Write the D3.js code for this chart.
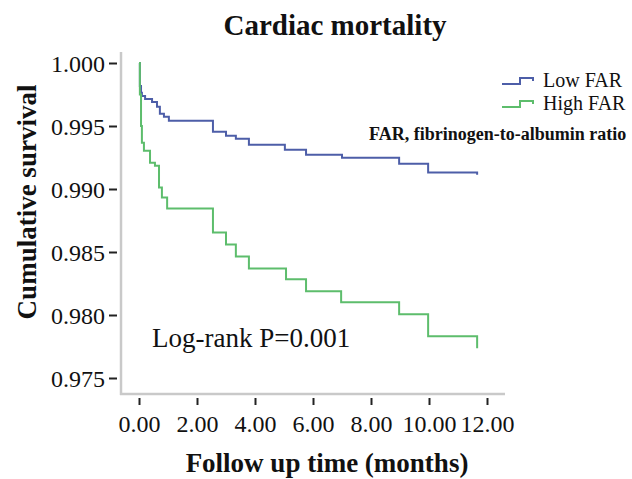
<!DOCTYPE html>
<html>
<head>
<meta charset="utf-8">
<script src="https://cdn.jsdelivr.net/npm/d3@7"></script>
<style>
  body { margin: 0; background: #fff; }
  svg text { font-family: "Liberation Serif", "Times New Roman", serif; fill: #111; }
</style>
</head>
<body>
<div id="chart"></div>
<script>
// Kaplan-Meier steps (time in months, cumulative survival)
const lowTime = [0, 0.03, 0.07, 0.10, 0.21, 0.45, 0.62, 0.72, 0.86, 1.03, 2.55, 3.00, 3.34, 3.79, 5.03, 5.76, 7.00, 8.97, 9.97, 11.66];
const lowSurv = [1.0, 0.99818, 0.99763, 0.99739, 0.99715, 0.99691, 0.99652, 0.99597, 0.99573, 0.99541, 0.99454, 0.99422, 0.99399, 0.99351, 0.99312, 0.99272, 0.99248, 0.99201, 0.99130, 0.99114];
const highTime = [0, 0.03, 0.07, 0.10, 0.17, 0.38, 0.55, 0.69, 0.79, 0.97, 2.55, 3.00, 3.34, 3.79, 5.07, 5.76, 6.97, 8.97, 9.97, 11.66];
const highSurv = [1.0, 0.9975, 0.9950, 0.99367, 0.99304, 0.99209, 0.99185, 0.99011, 0.98932, 0.98845, 0.98655, 0.98560, 0.98465, 0.98370, 0.98283, 0.98188, 0.98101, 0.98006, 0.97832, 0.97737];
const xTicks = [0, 2, 4, 6, 8, 10, 12];
const yTicks = [0.975, 0.980, 0.985, 0.990, 0.995, 1.000];
const groups = ['Low FAR', 'High FAR'];
const colors = ['#4d5ea8', '#5dbd6c'];

const width = 632, height = 479;

const svg = d3.select('#chart').append('svg')
    .attr('width', width)
    .attr('height', height);

const x = d3.scaleLinear().domain([0, 12]).range([139, 487]);
const y = d3.scaleLinear().domain([0.975, 1.0]).range([378, 63]);

// Frame lines (light gray, SPSS style)
svg.append('line')
    .attr('x1', 121).attr('x2', 121)
    .attr('y1', 52).attr('y2', 395)
    .attr('stroke', '#c9c9c9').attr('stroke-width', 2.5);
svg.append('line')
    .attr('x1', 120).attr('x2', 505)
    .attr('y1', 394).attr('y2', 394)
    .attr('stroke', '#c9c9c9').attr('stroke-width', 2.5);

// Y axis
const yAxis = svg.append('g')
    .attr('transform', 'translate(117,0)')
    .call(d3.axisLeft(y).tickValues(yTicks).tickFormat(d3.format('.3f')).tickSize(8).tickPadding(4));
yAxis.select('.domain').remove();
yAxis.selectAll('.tick line').attr('stroke', '#222').attr('stroke-width', 2);
yAxis.selectAll('.tick text').attr('font-size', 24).attr('dy', '0.34em');

// X axis
const xAxis = svg.append('g')
    .attr('transform', 'translate(0,398)')
    .call(d3.axisBottom(x).tickValues(xTicks).tickFormat(d3.format('.2f')).tickSize(7).tickPadding(10));
xAxis.select('.domain').remove();
xAxis.selectAll('.tick line').attr('stroke', '#222').attr('stroke-width', 2);
xAxis.selectAll('.tick text').attr('font-size', 24);

// Survival curves
const line = d3.line()
    .x(d => x(d[0]))
    .y(d => y(d[1]))
    .curve(d3.curveStepAfter);

const series = [
  d3.zip(lowTime, lowSurv),
  d3.zip(highTime, highSurv)
];

svg.selectAll('path.km')
    .data(series)
    .enter().append('path')
    .attr('class', 'km')
    .attr('d', line)
    .attr('fill', 'none')
    .attr('stroke', (d, i) => colors[i])
    .attr('stroke-width', 2);

// Legend
const legend = svg.append('g').attr('transform', 'translate(502,84)');
groups.forEach((g, i) => {
  const row = legend.append('g').attr('transform', `translate(0,${i * 23})`);
  row.append('path')
      .attr('d', 'M0,0 H18 V-6 H31 V-3')
      .attr('fill', 'none')
      .attr('stroke', colors[i])
      .attr('stroke-width', 2);
  row.append('text')
      .attr('x', 41).attr('y', 3)
      .attr('font-size', 20)
      .text(g);
});

svg.append('text')
    .attr('x', 369).attr('y', 140)
    .attr('font-size', 18).attr('font-weight', 'bold')
    .text('FAR, fibrinogen-to-albumin ratio');

svg.append('text')
    .attr('x', 152).attr('y', 347)
    .attr('font-size', 27)
    .text('Log-rank P=0.001');

// Titles
svg.append('text')
    .attr('x', 335).attr('y', 35)
    .attr('text-anchor', 'middle')
    .attr('font-size', 29).attr('font-weight', 'bold')
    .text('Cardiac mortality');

svg.append('text')
    .attr('x', 327).attr('y', 472)
    .attr('text-anchor', 'middle')
    .attr('font-size', 27).attr('font-weight', 'bold')
    .text('Follow up time (months)');

svg.append('text')
    .attr('transform', 'translate(36,202) rotate(-90)')
    .attr('text-anchor', 'middle')
    .attr('font-size', 27).attr('font-weight', 'bold')
    .text('Cumulative survival');
</script>
</body>
</html>
